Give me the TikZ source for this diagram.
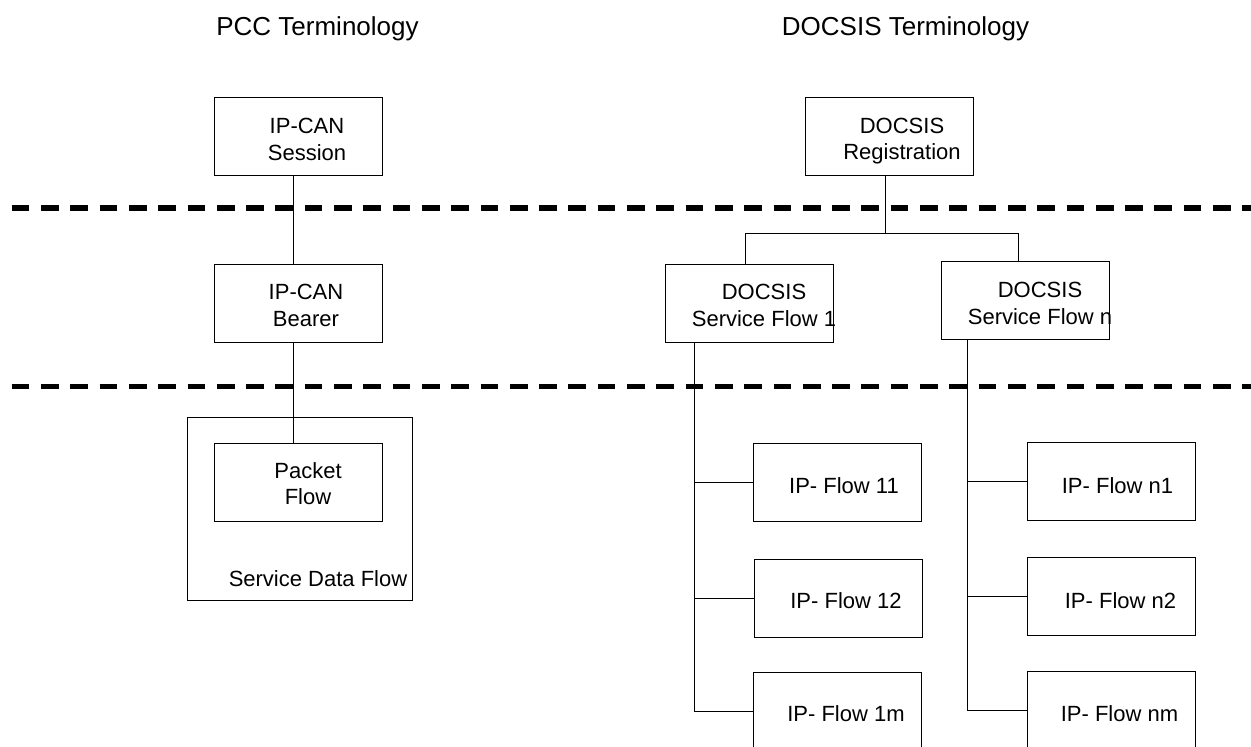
\documentclass[tikz,border=0pt]{standalone}
\usepackage{fontspec}
\setmainfont{Liberation Sans}
\begin{document}
\begin{tikzpicture}[x=1pt,y=-1pt,
  box/.style={draw, line width=1pt, rectangle, inner sep=0pt, outer sep=0pt, minimum width=168pt, minimum height=78pt},
  lbl/.style={font=\fontsize{22}{26.5}\selectfont, align=center, inner sep=0pt},
  ttl/.style={font=\fontsize{26}{30}\selectfont, inner sep=0pt, anchor=base},
  conn/.style={line width=1pt},
  sepline/.style={line width=5.5pt, dash pattern=on 17.7pt off 11.6pt}]
\useasboundingbox (0,0) rectangle (1251,747);
\fill[white] (0,0) rectangle (1251,747);
\clip (0,0) rectangle (1251,747);

% titles
\node[ttl] (pcct) at (317.5,35) {PCC Terminology};
\node[ttl] (doct) at (905.5,35) {DOCSIS Terminology};

% separators
\draw[sepline] (11.7,208) -- (1262,208);
\draw[sepline] (11.7,386.3) -- (1262,386.3);

% PCC side
\node[box] (session) at (298.35,136.85) {};
\node[box] (bearer) at (298,303) {};
\node[box, minimum width=225.4pt, minimum height=183.4pt] (sdf) at (300,509) {};
\node[box] (packet) at (298.7,482.5) {};

\node[lbl] (sessiont) at (307,139.6) {IP-CAN\\Session};
\node[lbl] (bearert) at (306,305.4) {IP-CAN\\Bearer};
\node[lbl] (packett) at (308,483.4) {Packet\\Flow};
\node[lbl, anchor=base] (sdft) at (318,586.7) {Service Data Flow};

\coordinate (pccx) at (293,0);
\draw[conn] (session.south -| pccx) -- (bearer.north -| pccx);
\draw[conn] (bearer.south -| pccx) -- (packet.north -| pccx);

% DOCSIS side
\node[box] (reg) at (889.5,136.85) {};
\node[box] (sf1) at (749.5,303.15) {};
\node[box] (sfn) at (1025.5,300.85) {};

\node[box] (f11) at (837.5,482.5) {};
\node[box] (f12) at (838.15,598.3) {};
\node[box] (f1m) at (837.5,711.3) {};
\node[box] (fn1) at (1111.2,481.35) {};
\node[box] (fn2) at (1111.5,596.15) {};
\node[box] (fnm) at (1111.5,710.7) {};

\node[lbl] (regt) at (902,141.1) {DOCSIS\\Registration};
\node[lbl] (sf1t) at (764,305.4) {DOCSIS\\Service Flow 1};
\node[lbl] (sfnt) at (1040,303.3) {DOCSIS\\Service Flow n};

\node[lbl, anchor=base] (f11t) at (844,493.3) {IP- Flow 11};
\node[lbl, anchor=base] (f12t) at (846,608.3) {IP- Flow 12};
\node[lbl, anchor=base] (f1mt) at (846,721.7) {IP- Flow 1m};
\node[lbl, anchor=base] (fn1t) at (1117.5,493.3) {IP- Flow n1};
\node[lbl, anchor=base] (fn2t) at (1120.5,608.3) {IP- Flow n2};
\node[lbl, anchor=base] (fnmt) at (1119.5,721) {IP- Flow nm};

\coordinate (regx) at (885,233.3);
\coordinate (bl) at (745.7,233.3);
\coordinate (br) at (1018.3,233.3);
\draw[conn] (reg.south -| regx) -- (regx);
\draw[conn] (sf1.north -| bl) -- (bl) -- (br) -- (sfn.north -| br);

\coordinate (t1) at (694.3,0);
\coordinate (tn) at (967.3,0);
\draw[conn] (sf1.south -| t1) |- (f1m.west);
\draw[conn] (f11.west) -- (f11.west -| t1);
\draw[conn] (f12.west) -- (f12.west -| t1);
\draw[conn] (sfn.south -| tn) |- (fnm.west);
\draw[conn] (fn1.west) -- (fn1.west -| tn);
\draw[conn] (fn2.west) -- (fn2.west -| tn);
\end{tikzpicture}
\end{document}
